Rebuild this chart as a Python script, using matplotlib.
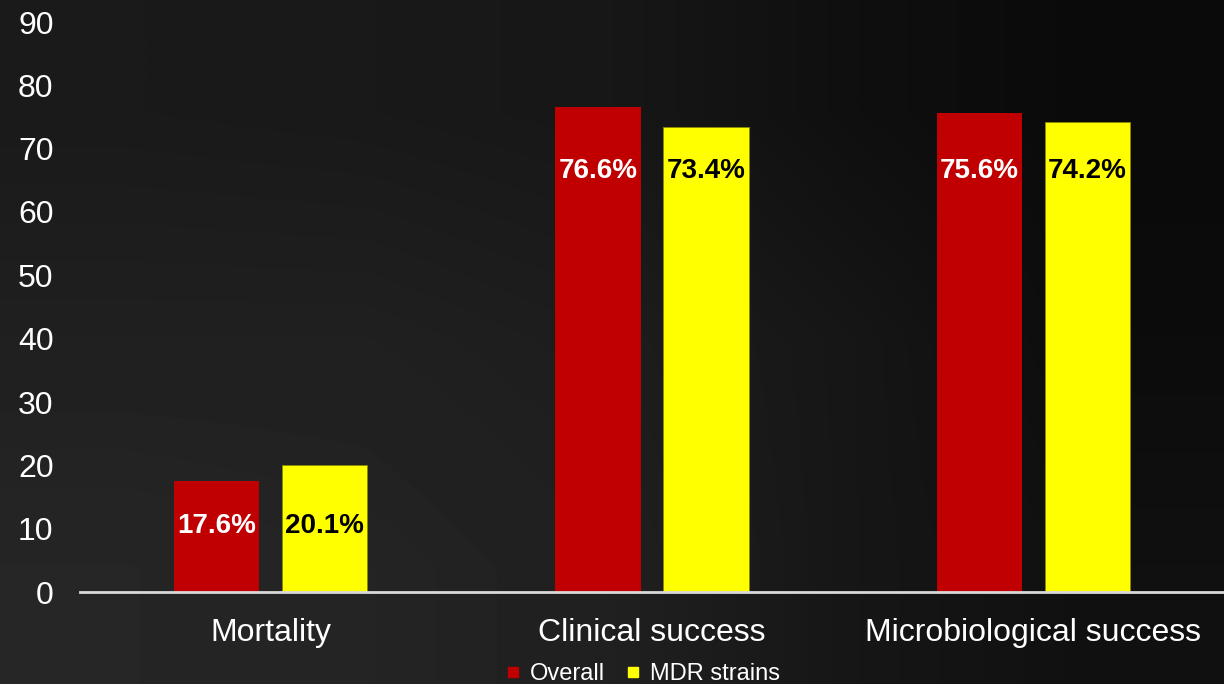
import numpy as np
import matplotlib
matplotlib.use("Agg")
from matplotlib import pyplot as plt
from matplotlib.lines import Line2D

categories = ["Mortality", "Clinical success", "Microbiological success"]
overall = [17.6, 76.6, 75.6]
mdr = [20.1, 73.4, 74.2]
series_names = ["Overall", "MDR strains"]
yticks = [0, 10, 20, 30, 40, 50, 60, 70, 80, 90]

red = "#C00000"
yellow = "#FFFF00"

plt.rcParams['font.family'] = ['Liberation Sans', 'DejaVu Sans']

fig = plt.figure(figsize=(12.24, 6.84), dpi=100)

# background gradient (dark grey bottom-left -> near black right)
bg = np.array([[26, 25, 23, 15, 10],
               [32, 32, 29, 22, 12],
               [38, 36, 32, 22, 16]], dtype=float) / 255.0
bax = fig.add_axes([0, 0, 1, 1], zorder=-10)
bax.imshow(bg, cmap="gray", vmin=0, vmax=1, aspect="auto",
           interpolation="bilinear", extent=[0, 1, 0, 1])
bax.axis("off")

ax = fig.add_axes([80 / 1224, 92 / 684, 1 - 80 / 1224, 570 / 684])
ax.patch.set_alpha(0)

x = np.arange(len(categories))
w = 0.223
off = 0.1416
b1 = ax.bar(x - off, overall, w, color=red, zorder=2)
b2 = ax.bar(x + off, mdr, w, color=yellow, edgecolor="#8a8a00", linewidth=0.6, zorder=2)

# labels of a category sit on one line, a bit under the bar tops
for i in range(len(categories)):
    ly = (overall[i] + mdr[i]) / 2 - 8.5
    ax.text(i - off, ly, f"{overall[i]}%", ha="center", va="center",
            color="white", fontsize=20, fontweight="bold", zorder=3)
    ax.text(i + off, ly, f"{mdr[i]}%", ha="center", va="center",
            color="black", fontsize=20, fontweight="bold", zorder=3)

ax.set_xlim(-0.5, 2.5)
ax.set_ylim(0, 90)
ax.set_yticks(yticks)
ax.set_xticks(x)
ax.set_xticklabels(categories)
ax.tick_params(axis="both", length=0, labelsize=23, colors="white")
ax.tick_params(axis="y", pad=19)
ax.tick_params(axis="x", pad=19)
for s in ["top", "right", "left"]:
    ax.spines[s].set_visible(False)
ax.spines["bottom"].set_color("#d9d9d9")
ax.spines["bottom"].set_linewidth(2)

handles = [Line2D([], [], marker="s", linestyle="none", markersize=7.5, color=red),
           Line2D([], [], marker="s", linestyle="none", markersize=7.5, color=yellow)]
fig.legend(handles, series_names, loc="center", bbox_to_anchor=(643 / 1224, 10 / 684),
           ncol=2, frameon=False, fontsize=17, labelcolor="white",
           handlelength=0.6, handletextpad=0.4, columnspacing=0.9, borderpad=0)

fig.savefig("out.png", dpi=100)
